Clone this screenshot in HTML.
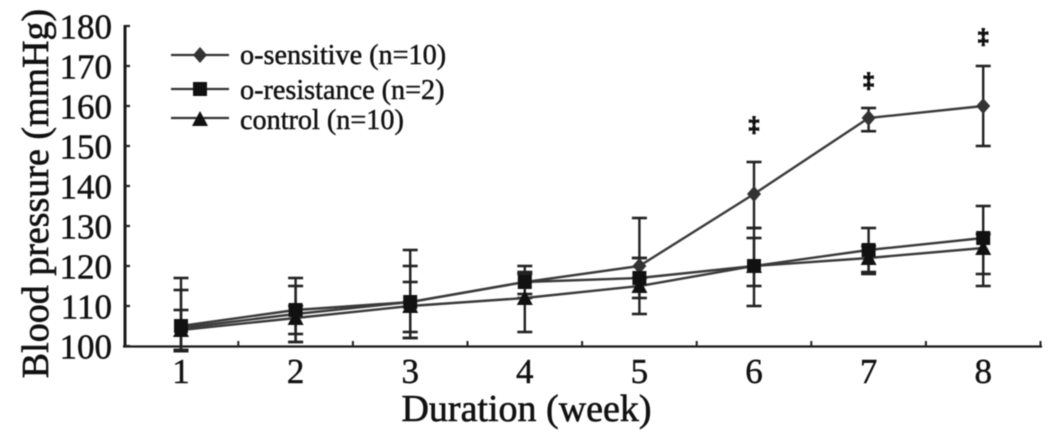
<!DOCTYPE html>
<html lang="en">
<head>
<meta charset="utf-8">
<title>Blood pressure by duration</title>
<style>
html,body{margin:0;padding:0;background:#fff;width:1063px;height:446px;overflow:hidden}
svg{display:block;filter:blur(0.45px)}
text{font-family:"Liberation Serif",serif;fill:#111}
</style>
</head>
<body>
<svg id="chart" width="1063" height="446" viewBox="0 0 1063 446" xmlns="http://www.w3.org/2000/svg">
  <text transform="translate(48,193.5) rotate(-90)" text-anchor="middle" font-size="38" stroke="#111" stroke-width="0.6">Blood pressure (mmHg)</text>
  <text x="526.5" y="421" text-anchor="middle" font-size="38" stroke="#111" stroke-width="0.6">Duration (week)</text>
  <g>
    <g>
      <line x1="171" x2="229" y1="55" y2="55" stroke="#333" stroke-width="2.2"/>
      <polygon points="200,47 207,55 200,63 193,55" fill="#333"/>
      <text x="240" y="64" font-size="28.2" stroke="#111" stroke-width="0.45">o-sensitive (n=10)</text>
    </g>
    <g>
      <line x1="171" x2="229" y1="89" y2="89" stroke="#333" stroke-width="2.2"/>
      <rect x="193" y="82" width="14" height="14" fill="#111"/>
      <text x="240" y="99" font-size="28.2" stroke="#111" stroke-width="0.45">o-resistance (n=2)</text>
    </g>
    <g>
      <line x1="171" x2="229" y1="118" y2="118" stroke="#333" stroke-width="2.2"/>
      <polygon points="200,111 208,126 192,126" fill="#111"/>
      <text x="240" y="129" font-size="28.2" stroke="#111" stroke-width="0.45">control (n=10)</text>
    </g>
  </g>
</svg>
<script>
const weeks = [1, 2, 3, 4, 5, 6, 7, 8];
const yTicks = [100, 110, 120, 130, 140, 150, 160, 170, 180];

const sensitiveMean = [104.5, 108, 111, 116, 120, 138, 157, 160];
const sensitiveUpper = [117, 117, 124, 120, 132, 146, 159.5, 170];
const sensitiveLower = [99, 101, 102, 112, 117, 129.5, 153.7, 150];

const resistanceMean = [105, 109, 111, 116, 117, 120, 124, 127];
const resistanceUpper = [114, 115, 120, 118.5, 122, 129.5, 129.5, 135];
const resistanceLower = [99, 103, 103.5, 113, 112, 110, 118, 118];

const controlMean = [104, 107, 110, 112, 115, 120, 122, 124.5];
const controlUpper = [109, 110, 116, 118, 122, 127, 125, 128];
const controlLower = [98.7, 101, 102, 103.5, 108, 115, 118.5, 115];

const starWeeks = [6, 7, 8];
const starValues = [156.3, 167.3, 178.3];
const starLabels = ['‡', '‡', '‡'];

const xScale = w => 181 + (w - 1) * 114.6;
const yScale = v => 346 - (v - 100) * 4;

const svg = document.getElementById('chart');
const NS = 'http://www.w3.org/2000/svg';
function mk(tag, props, parent) {
  const e = document.createElementNS(NS, tag);
  for (const k in props) e.setAttribute(k, props[k]);
  (parent || svg).appendChild(e);
  return e;
}

/* axes */
const yAxis = mk('line', {x1: 125, x2: 125, y1: yScale(180) - 1, y2: yScale(100) + 1, stroke: '#1a1a1a', 'stroke-width': 3});


const xAxis = mk('line', {x1: 123, x2: 1042, y1: yScale(100) + 0.5, y2: yScale(100) + 0.5, stroke: '#1a1a1a', 'stroke-width': 2.2});



yTicks.forEach(v => {
  const t = mk('line', {x1: 125, x2: 130, y1: yScale(v), y2: yScale(v), stroke: '#222', 'stroke-width': 2.2});
  
  
  const l = mk('text', {x: 112, y: yScale(v) + 12.5, 'text-anchor': 'end', 'font-size': 35, stroke: '#111', 'stroke-width': 0.45});
  
  
  l.textContent = v;
});

weeks.forEach(w => {
  const edge = xScale(w) + 114.6 / 2;
  const t = mk('line', {x1: edge, x2: edge, y1: yScale(100), y2: yScale(100) - 5, stroke: '#222', 'stroke-width': 2});
  
  
  const l = mk('text', {x: xScale(w), y: 383, 'text-anchor': 'middle', 'font-size': 35, stroke: '#111', 'stroke-width': 0.45});
  
  
  l.textContent = w;
});

function errorBars(name, upper, lower) {
  weeks.forEach((w, i) => {
    const x = xScale(w);
    const stem = mk('line', {x1: x, x2: x, y1: yScale(upper[i]), y2: yScale(lower[i]), stroke: '#222', 'stroke-width': 2.4});
    
    
    const capTop = mk('line', {x1: x - 7.5, x2: x + 7.5, y1: yScale(upper[i]), y2: yScale(upper[i]), stroke: '#222', 'stroke-width': 2.6});
    
    
    const capBottom = mk('line', {x1: x - 7.5, x2: x + 7.5, y1: yScale(lower[i]), y2: yScale(lower[i]), stroke: '#222', 'stroke-width': 2.6});
    
    
  });
}

function seriesLine(name, mean) {
  const pts = weeks.map((w, i) => xScale(w) + ',' + yScale(mean[i])).join(' ');
  const line = mk('polyline', {points: pts, fill: 'none', stroke: '#3a3a3a', 'stroke-width': 2.4});
  
  
}

function markers(name, mean, shape) {
  weeks.forEach((w, i) => {
    const x = xScale(w), y = yScale(mean[i]);
    let m;
    if (shape === 'diamond') {
      m = mk('polygon', {points: [x, y - 8, x + 7, y, x, y + 8, x - 7, y].join(','), fill: '#333'});
    } else if (shape === 'square') {
      m = mk('rect', {x: x - 7, y: y - 7, width: 14, height: 14, fill: '#111'});
    } else {
      m = mk('polygon', {points: [x, y - 8, x + 8, y + 7, x - 8, y + 7].join(','), fill: '#111'});
    }
    
    
  });
}

errorBars('sensitive', sensitiveUpper, sensitiveLower);
errorBars('resistance', resistanceUpper, resistanceLower);
errorBars('control', controlUpper, controlLower);
seriesLine('sensitive', sensitiveMean);
seriesLine('resistance', resistanceMean);
seriesLine('control', controlMean);
markers('sensitive', sensitiveMean, 'diamond');
markers('control', controlMean, 'triangle');
markers('resistance', resistanceMean, 'square');

starWeeks.forEach((w, i) => {
  const s = mk('text', {x: xScale(w), y: yScale(starValues[i]) + 10, 'text-anchor': 'middle', 'font-size': 21, 'font-weight': 'bold', stroke: '#111', 'stroke-width': 1.1});
  
  
  s.textContent = starLabels[i];
});
</script>
</body>
</html>
